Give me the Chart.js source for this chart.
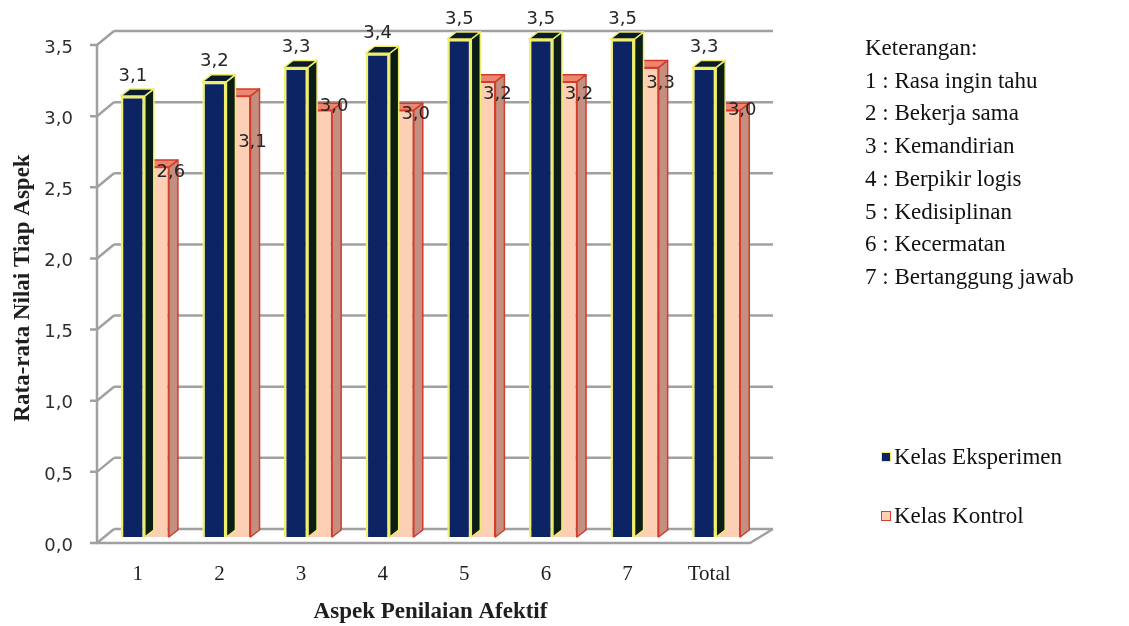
<!DOCTYPE html>
<html>
<head>
<meta charset="utf-8">
<script src="https://cdn.jsdelivr.net/npm/chart.js@4.4.1/dist/chart.umd.min.js"></script>
<style>
  html, body { margin: 0; padding: 0; background: #fff; }
  #wrap { position: relative; width: 1129px; height: 626px; overflow: hidden; }
  #wrap canvas { position: absolute; left: 0; top: 0; }
  #notes { position: absolute; left: 865px; top: 32px; font-family: "Liberation Serif", serif;
           font-size: 23px; line-height: 32.7px; color: #111; white-space: nowrap; }
  #legend { position: absolute; left: 881px; top: 444px; font-family: "Liberation Serif", serif;
            font-size: 23px; color: #111; white-space: nowrap; }
  .lg { display: flex; align-items: center; height: 26px; margin-bottom: 33px; }
  .sw { width: 10px; height: 10px; margin-right: 3px; box-sizing: border-box; }
</style>
</head>
<body>
<div id="wrap">
  <canvas id="c" width="1129" height="626"></canvas>
  <div id="notes"></div>
  <div id="legend"></div>
</div>
<script>
// ---- data ----
const categories = ['1', '2', '3', '4', '5', '6', '7', 'Total'];
const aspects = ['Rasa ingin tahu', 'Bekerja sama', 'Kemandirian', 'Berpikir logis',
                 'Kedisiplinan', 'Kecermatan', 'Bertanggung jawab'];
const eksperimen = [3.1, 3.2, 3.3, 3.4, 3.5, 3.5, 3.5, 3.3];
const kontrol = [2.6, 3.1, 3.0, 3.0, 3.2, 3.2, 3.3, 3.0];
const seriesNames = ['Kelas Eksperimen', 'Kelas Kontrol'];
const yTicks = [0, 0.5, 1, 1.5, 2, 2.5, 3, 3.5];

// ---- styling ----
const fmt = v => v.toFixed(1).replace('.', ',');
const GRID = '#a0a0a0';
const BACK = { dx: 10, dy: -8 };   // back wall offset from the bar plane
const FRONT = { dx: -7, dy: 6 };   // front edge offset from the bar plane
const DEPTH = { dx: 9, dy: 7 };    // bar extrusion
const faces = [
  { side: '#0c1d16', top: '#0b1a2c', edge: '#eded6a' },
  { side: '#c38f80', top: '#ec8670', edge: '#d23c2a' }
];
// vertical nudge of the Kelas Kontrol value labels (px)
const kontrolLabelShift = [5, 46, -4, 4, 13, 13, 16, 0];

const frame3d = {
  id: 'frame3d',
  beforeDatasetsDraw(chart) {
    const { ctx, chartArea: a, scales: { y } } = chart;
    ctx.save();
    ctx.strokeStyle = GRID;
    ctx.lineWidth = 2.5;
    y.ticks.forEach(t => {
      const py = y.getPixelForValue(t.value);
      ctx.beginPath();
      ctx.moveTo(a.left + BACK.dx, py + BACK.dy);
      ctx.lineTo(a.right + BACK.dx + 6, py + BACK.dy);
      ctx.stroke();
      ctx.beginPath();
      ctx.moveTo(a.left + FRONT.dx - 7, py + FRONT.dy);
      ctx.lineTo(a.left + FRONT.dx, py + FRONT.dy);
      ctx.lineTo(a.left + BACK.dx, py + BACK.dy);
      ctx.stroke();
    });
    const y0 = y.getPixelForValue(y.min), y1 = y.getPixelForValue(y.max);
    ctx.beginPath();
    ctx.moveTo(a.left + FRONT.dx, y1 + FRONT.dy);
    ctx.lineTo(a.left + FRONT.dx, y0 + FRONT.dy);
    ctx.lineTo(a.right + FRONT.dx, y0 + FRONT.dy);
    ctx.lineTo(a.right + BACK.dx + 6, y0 + BACK.dy);
    ctx.stroke();
    ctx.restore();
  },
  afterDatasetDraw(chart, args) {
    const { ctx } = chart;
    const f = faces[args.index];
    ctx.save();
    ctx.lineWidth = 1.5;
    ctx.strokeStyle = f.edge;
    ctx.lineJoin = 'round';
    args.meta.data.forEach(bar => {
      const { x, y, base, width } = bar.getProps(['x', 'y', 'base', 'width'], true);
      const l = x - width / 2, r = x + width / 2;
      // side face
      ctx.beginPath();
      ctx.moveTo(r, y);
      ctx.lineTo(r + DEPTH.dx, y - DEPTH.dy);
      ctx.lineTo(r + DEPTH.dx, base - DEPTH.dy);
      ctx.lineTo(r, base);
      ctx.closePath();
      ctx.fillStyle = f.side;
      ctx.fill();
      ctx.stroke();
      // top face
      ctx.beginPath();
      ctx.moveTo(l, y);
      ctx.lineTo(l + DEPTH.dx, y - DEPTH.dy);
      ctx.lineTo(r + DEPTH.dx, y - DEPTH.dy);
      ctx.lineTo(r, y);
      ctx.closePath();
      ctx.fillStyle = f.top;
      ctx.fill();
      ctx.stroke();
    });
    ctx.restore();
  },
  afterDatasetsDraw(chart) {
    const { ctx } = chart;
    ctx.save();
    ctx.font = '18px "DejaVu Sans", sans-serif';
    ctx.fillStyle = '#262626';
    ctx.textAlign = 'center';
    ctx.textBaseline = 'middle';
    chart.getDatasetMeta(0).data.forEach((bar, i) => {
      ctx.fillText(fmt(chart.data.datasets[0].data[i]), bar.x, bar.y - 20);
    });
    chart.getDatasetMeta(1).data.forEach((bar, i) => {
      ctx.fillText(fmt(chart.data.datasets[1].data[i]), bar.x + 14, bar.y + kontrolLabelShift[i]);
    });
    ctx.restore();
  }
};

const chart = new Chart(document.getElementById('c'), {
  type: 'bar',
  data: {
    labels: categories,
    datasets: [
      { label: seriesNames[0], data: eksperimen, backgroundColor: '#0c2463',
        borderColor: '#f0f06c', borderWidth: 2.5 },
      { label: seriesNames[1], data: kontrol, backgroundColor: '#fdd0b5',
        borderColor: '#d6412e', borderWidth: 1.5 }
    ]
  },
  options: {
    responsive: false,
    animation: false,
    events: [],
    layout: { padding: { top: 39, right: 372, bottom: 0, left: 0 } },
    datasets: { bar: { categoryPercentage: 0.59, barPercentage: 1 } },
    plugins: { legend: { display: false }, tooltip: { enabled: false } },
    scales: {
      x: {
        grid: { display: false },
        border: { display: false },
        ticks: { color: '#1e1e1e', padding: 17, labelOffset: -7,
                 font: { family: 'Liberation Serif', size: 21 } },
        title: { display: true, text: 'Aspek Penilaian Afektif', color: '#1e1e1e',
                 padding: { top: 0, bottom: 0 },
                 font: { family: 'Liberation Serif', size: 23, weight: 'bold' } },
        afterFit(s) { s.height = 89; }
      },
      y: {
        min: 0, max: 3.5,
        afterBuildTicks(s) { s.ticks = yTicks.map(v => ({ value: v })); },
        grid: { display: false },
        border: { display: false },
        ticks: { color: '#2e2e2e', padding: 23, labelOffset: 9,
                 font: { family: 'DejaVu Sans', size: 18 },
                 callback: v => fmt(v) },
        title: { display: true, text: 'Rata-rata Nilai Tiap Aspek', color: '#1e1e1e',
                 padding: { top: 9, bottom: 0 },
                 font: { family: 'Liberation Serif', size: 23, weight: 'bold' } },
        afterFit(s) { s.width = 104; }
      }
    }
  },
  plugins: [frame3d]
});

// aspect key
const notes = document.getElementById('notes');
notes.innerHTML = '<div>Keterangan:</div>' +
  aspects.map((a, i) => `<div>${categories[i]} : ${a}</div>`).join('');

// series legend
const legend = document.getElementById('legend');
chart.data.datasets.forEach(ds => {
  const row = document.createElement('div');
  row.className = 'lg';
  const sw = document.createElement('span');
  sw.className = 'sw';
  sw.style.background = ds.backgroundColor;
  sw.style.border = `1.5px solid ${ds.borderColor}`;
  const tx = document.createElement('span');
  tx.textContent = ds.label;
  row.appendChild(sw);
  row.appendChild(tx);
  legend.appendChild(row);
});
</script>
</body>
</html>
